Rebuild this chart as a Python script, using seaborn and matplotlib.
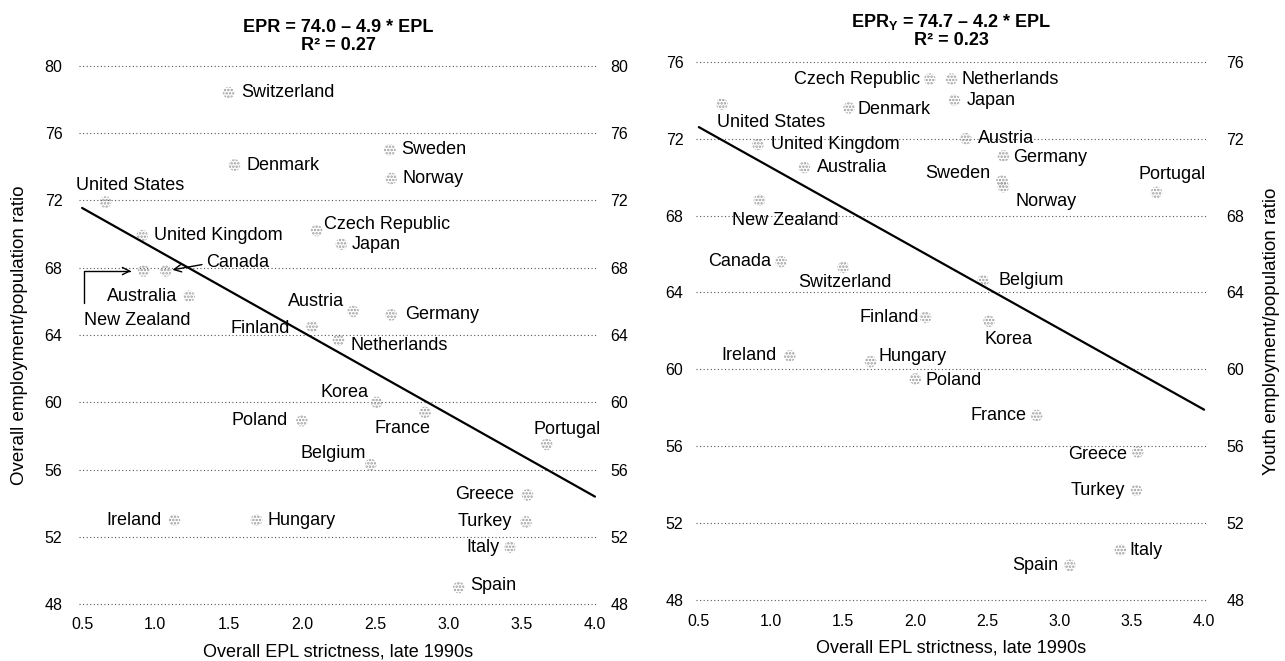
import numpy as np
import pandas as pd
import matplotlib
matplotlib.use('Agg')
import matplotlib.pyplot as plt
import seaborn as sns

# data
countries = ['Switzerland', 'Denmark', 'Sweden', 'Norway', 'United States',
             'United Kingdom', 'Czech Republic', 'Japan', 'Canada', 'New Zealand',
             'Australia', 'Austria', 'Germany', 'Finland', 'Netherlands', 'Korea',
             'France', 'Poland', 'Portugal', 'Belgium', 'Greece', 'Ireland',
             'Hungary', 'Turkey', 'Italy', 'Spain']
epl = [1.50, 1.54, 2.60, 2.61, 0.66,
       0.91, 2.10, 2.27, 1.07, 0.92,
       1.23, 2.35, 2.61, 2.07, 2.25, 2.51,
       2.84, 2.00, 3.67, 2.47, 3.54, 1.13,
       1.69, 3.53, 3.42, 3.07]
epr_overall = [78.4, 74.1, 75.0, 73.3, 71.9,
               69.9, 70.2, 69.4, 67.8, 67.8,
               66.3, 65.4, 65.2, 64.5, 63.7, 60.0,
               59.4, 58.9, 57.5, 56.3, 54.5, 53.0,
               53.0, 52.9, 51.4, 49.0]
epr_youth = [65.3, 73.6, 69.8, 69.5, 73.8,
             71.7, 75.1, 74.0, 65.6, 68.8,
             70.5, 72.0, 71.1, 62.7, 75.1, 62.5,
             57.6, 59.5, 69.2, 64.6, 55.7, 60.7,
             60.4, 53.7, 50.6, 49.8]

fit_overall = (74.0, -4.9)
fit_youth = (74.7, -4.2)
line_x = np.array([0.5, 4.0])

x_ticks = [0.5, 1.0, 1.5, 2.0, 2.5, 3.0, 3.5, 4.0]
y_ticks_overall = [48, 52, 56, 60, 64, 68, 72, 76, 80]
y_ticks_youth = [48, 52, 56, 60, 64, 68, 72, 76]

df = pd.DataFrame({'country': countries, 'epl': epl,
                   'overall': epr_overall, 'youth': epr_youth})

# label placement: (ha, dx, dy) in pixels from the marker
lab_left = {
    'Switzerland': ('left', 13, 0), 'Denmark': ('left', 12, 0),
    'Sweden': ('left', 11, 0), 'Norway': ('left', 11, 0),
    'United States': ('center', 25, 17), 'United Kingdom': ('left', 12, 0),
    'Czech Republic': ('left', 7, 6), 'Japan': ('left', 10, 0),
    'Australia': ('right', -12, 0), 'Austria': ('right', -9, 10),
    'Germany': ('left', 14, 0), 'Finland': ('right', -22, -2),
    'Netherlands': ('left', 12, -5), 'Korea': ('right', -8, 10),
    'France': ('center', -22, -16), 'Poland': ('right', -14, 0),
    'Portugal': ('center', 21, 15), 'Belgium': ('right', -5, 11),
    'Greece': ('right', -13, 0), 'Ireland': ('right', -13, 0),
    'Hungary': ('left', 11, 0), 'Turkey': ('right', -14, 0),
    'Italy': ('right', -10, 0), 'Spain': ('left', 12, 2),
}
lab_right = {
    'Czech Republic': ('right', -10, 0), 'Netherlands': ('left', 10, 0),
    'Japan': ('left', 12, 0), 'United States': ('left', -5, -18),
    'Denmark': ('left', 9, -2), 'United Kingdom': ('left', 13, 0),
    'Austria': ('left', 12, 0), 'Germany': ('left', 10, -2),
    'Australia': ('left', 13, 0), 'Sweden': ('right', -12, 7),
    'Norway': ('left', 12, -15), 'Portugal': ('center', 16, 18),
    'New Zealand': ('center', 26, -20), 'Canada': ('right', -10, 0),
    'Switzerland': ('center', 2, -15), 'Belgium': ('left', 15, 0),
    'Finland': ('right', -7, 0), 'Korea': ('center', 19, -18),
    'Ireland': ('right', -13, 0), 'Hungary': ('left', 8, 5),
    'Poland': ('left', 10, -2), 'France': ('right', -10, 0),
    'Greece': ('right', -11, -3), 'Turkey': ('right', -11, 0),
    'Italy': ('left', 9, 0), 'Spain': ('right', -12, 0),
}

sns.set_style('white')
plt.rcParams['font.family'] = ['Liberation Sans', 'DejaVu Sans']
plt.rcParams['mathtext.fontset'] = 'custom'
plt.rcParams['mathtext.rm'] = 'Liberation Sans'
plt.rcParams['mathtext.bf'] = 'Liberation Sans:bold'
plt.rcParams['hatch.linewidth'] = 1.2
for key in ['text.color', 'axes.labelcolor', 'xtick.labelcolor', 'ytick.labelcolor']:
    plt.rcParams[key] = 'black'

fig = plt.figure(figsize=(12.85, 6.61), dpi=100)
ax1 = fig.add_axes([0.0616, 0.0806, 0.4037, 0.8251])
ax2 = fig.add_axes([0.5416, 0.0865, 0.3977, 0.8259])


def draw_panel(ax, col, fit, yticks, ylim, title, labels, ylabel, ylabel_side,
               pad_l, pad_r):
    ax.set_xlim(0.48, 4.02)
    ax.set_ylim(*ylim)
    sns.scatterplot(data=df, x='epl', y=col, ax=ax, marker='o', s=70,
                    facecolor='none', edgecolor='#9a9a9a', hatch='.....',
                    linewidth=0, zorder=3)
    sns.lineplot(x=line_x, y=fit[0] + fit[1] * line_x, ax=ax, color='black',
                 lw=1.6, zorder=4)
    for sp in ax.spines.values():
        sp.set_visible(False)
    ax.set_yticks(yticks)
    ax.grid(axis='y', linestyle=(0, (1, 2.2)), color='#555555', lw=0.8)
    ax.grid(axis='x', visible=False)
    ax.tick_params(axis='y', length=0, labelsize=11.5, pad=pad_l,
                   labelcolor='black')
    ax.set_xticks(x_ticks)
    ax.set_xticklabels([f'{v:.1f}' for v in x_ticks])
    ax.tick_params(axis='x', direction='in', length=7, width=0.8,
                   color='#aaaaaa', labelsize=11.5, pad=7, labelcolor='black')
    for t in (ax.xaxis.get_major_ticks()[0], ax.xaxis.get_major_ticks()[-1]):
        t.tick1line.set_visible(False)
    ax.set_xlabel('Overall EPL strictness, late 1990s', fontsize=13, labelpad=8,
                  color='black')
    ax.set_ylabel('')
    sec = ax.secondary_yaxis('right')
    sec.set_yticks(yticks)
    sec.tick_params(length=0, labelsize=11.5, pad=pad_r, labelcolor='black')
    for sp in sec.spines.values():
        sp.set_visible(False)
    if ylabel_side == 'left':
        ax.set_ylabel(ylabel, fontsize=13.5, labelpad=12, color='black')
    else:
        sec.set_ylabel(ylabel, fontsize=13.5, labelpad=13, color='black')
    ax.set_title(title, fontsize=13, fontweight='bold', pad=9, linespacing=1.05,
                 color='black')
    for _, r in df.iterrows():
        if r['country'] not in labels:
            continue
        ha, dx, dy = labels[r['country']]
        ax.annotate(r['country'], (r['epl'], r[col]), xytext=(dx, dy),
                    textcoords='offset pixels', ha=ha, va='center',
                    fontsize=13, color='black', zorder=5)


draw_panel(ax1, 'overall', fit_overall, y_ticks_overall, (47.8, 80.2),
           'EPR = 74.0 – 4.9 * EPL\nR² = 0.27', lab_left,
           'Overall employment/population ratio', 'left', 12, 9)
draw_panel(ax2, 'youth', fit_youth, y_ticks_youth, (47.8, 76.2),
           r'EPR$_{\mathbf{Y}}$ = 74.7 – 4.2 * EPL' + '\nR² = 0.23', lab_right,
           'Youth employment/population ratio', 'right', 9, 14)

# arrows for the two crowded points in the left panel
row_c = df[df['country'] == 'Canada'].iloc[0]
ax1.annotate('Canada', (row_c['epl'], row_c['overall']), xytext=(41, 9),
             textcoords='offset pixels', ha='left', va='center', fontsize=13,
             color='black',
             arrowprops=dict(arrowstyle='->', color='black', lw=1,
                             shrinkA=1, shrinkB=5, relpos=(0, 0.4)))
row_nz = df[df['country'] == 'New Zealand'].iloc[0]
ax1.annotate('New Zealand', (row_nz['epl'], row_nz['overall']), xytext=(-6, -49),
             textcoords='offset pixels', ha='center', va='center', fontsize=13,
             color='black',
             arrowprops=dict(arrowstyle='->', color='black', lw=1,
                             connectionstyle='angle,angleA=90,angleB=0,rad=0',
                             shrinkA=4, shrinkB=9, relpos=(0, 1)))

plt.savefig('out.png', dpi=100)
